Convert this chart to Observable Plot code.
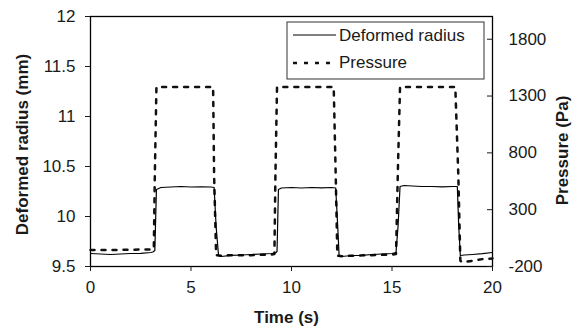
<!DOCTYPE html>
<html><head><meta charset="utf-8">
<script src="https://cdn.jsdelivr.net/npm/d3@7"></script>
<script src="https://cdn.jsdelivr.net/npm/@observablehq/plot@0.6"></script>
<style>
body{margin:0;background:#fff;}
#chart{position:relative;width:580px;height:328px;}
</style></head><body><div id="chart"></div>
<script>
// Deformed radius (mm) over time (s)
const radiusTime = [0, 0.5, 1, 1.5, 2, 2.5, 3, 3.1, 3.2, 3.28, 3.5, 4, 4.5, 5, 5.5, 6, 6.15, 6.25, 6.37, 6.5, 7, 7.5, 8, 8.5, 9, 9.2, 9.28, 9.35, 9.5, 10, 10.5, 11, 11.5, 12, 12.2, 12.3, 12.37, 12.5, 13, 13.5, 14, 14.5, 15, 15.2, 15.3, 15.4, 15.6, 16, 16.5, 17, 17.5, 18, 18.25, 18.32, 18.4, 18.6, 19, 19.5, 20];
const radiusMm = [9.63, 9.625, 9.62, 9.625, 9.63, 9.632, 9.64, 9.645, 9.66, 10.27, 10.29, 10.295, 10.3, 10.295, 10.297, 10.295, 10.29, 9.9, 9.61, 9.6, 9.612, 9.615, 9.62, 9.625, 9.63, 9.635, 9.65, 10.27, 10.285, 10.29, 10.285, 10.29, 10.287, 10.29, 10.285, 9.9, 9.6, 9.6, 9.61, 9.612, 9.62, 9.625, 9.63, 9.64, 9.9, 10.3, 10.31, 10.305, 10.3, 10.3, 10.297, 10.3, 10.3, 9.9, 9.61, 9.615, 9.62, 9.628, 9.64];
// Pressure (Pa) over time (s)
const pressureTime = [0, 1, 2, 3, 3.15, 3.2, 3.28, 4, 5, 6, 6.1, 6.15, 6.25, 6.5, 7, 8, 9, 9.15, 9.2, 9.28, 10, 11, 12, 12.1, 12.2, 12.28, 12.5, 13, 14, 15, 15.2, 15.3, 15.4, 16, 17, 18, 18.15, 18.3, 18.4, 18.5, 19, 19.5, 20];
const pressurePa = [-55, -55, -52, -50, -45, 600, 1380, 1380, 1380, 1380, 1380, 600, -100, -105, -100, -100, -95, -90, 600, 1380, 1380, 1380, 1380, 1380, 600, -105, -110, -105, -100, -95, -90, 700, 1380, 1380, 1380, 1380, 1380, 600, -150, -162, -150, -135, -130];

const xTicks = [0, 5, 10, 15, 20];
const radiusTicks = [9.5, 10, 10.5, 11, 11.5, 12];
const pressureTicks = [-200, 300, 800, 1300, 1800];
const radiusDomain = [9.5, 12];
const pressureDomain = [-200, 2000];
const seriesNames = ["Deformed radius", "Pressure"];

const toR = p => radiusDomain[0] + (p - pressureDomain[0]) / (pressureDomain[1] - pressureDomain[0]) * (radiusDomain[1] - radiusDomain[0]);
const fromR = r => pressureDomain[0] + (r - radiusDomain[0]) / (radiusDomain[1] - radiusDomain[0]) * (pressureDomain[1] - pressureDomain[0]);

const radiusData = radiusTime.map((t, i) => ({t, v: radiusMm[i]}));
const pressureData = pressureTime.map((t, i) => ({t, v: toR(pressurePa[i])}));

const font = "'Liberation Sans', Arial, sans-serif";

const plot = Plot.plot({
  width: 580, height: 328,
  marginLeft: 90, marginRight: 88, marginTop: 16, marginBottom: 62,
  style: {fontFamily: font, fontSize: "17px", color: "#1a1a1a", background: "white", overflow: "visible"},
  x: {domain: [0, 20]},
  y: {domain: radiusDomain},
  marks: [
    Plot.frame({stroke: "#000", strokeWidth: 1.3}),
    Plot.axisX(xTicks, {tickSize: 5, tickPadding: 9, label: null, fontSize: 17, tickFormat: d => String(d)}),
    Plot.axisY(radiusTicks, {anchor: "left", tickSize: 5, tickPadding: 10, label: null, fontSize: 17, tickFormat: d => String(d)}),
    Plot.axisY(pressureTicks.map(toR), {anchor: "right", tickSize: 6, dx: -6, label: null, tickFormat: () => ""}),
    Plot.axisY(pressureTicks.map(toR), {anchor: "right", tickSize: 0, tickPadding: 16, label: null, fontSize: 17, tickFormat: d => String(Math.round(fromR(d)))}),
    Plot.line(pressureData, {x: "t", y: "v", stroke: "#111", strokeWidth: 2.5, strokeDasharray: "4,7"}),
    Plot.line(radiusData, {x: "t", y: "v", stroke: "#000", strokeWidth: 1.2}),
    Plot.text(["Time (s)"], {frameAnchor: "bottom", lineAnchor: "middle", textAnchor: "middle", dy: 51, dx: -5, fontWeight: "bold", fontSize: 17}),
    Plot.text(["Deformed radius (mm)"], {frameAnchor: "left", textAnchor: "middle", lineAnchor: "middle", rotate: -90, dx: -68, dy: 3, fontWeight: "bold", fontSize: 17}),
    Plot.text(["Pressure (Pa)"], {frameAnchor: "right", textAnchor: "middle", lineAnchor: "middle", rotate: -90, dx: 70, dy: 9, fontWeight: "bold", fontSize: 17})
  ]
});
document.getElementById("chart").appendChild(plot);

// legend box inside the plot
const svg = d3.select(plot);
const lg = svg.append("g").attr("font-family", font).attr("font-size", 17).attr("fill", "#1a1a1a").attr("text-anchor", "start");
lg.append("rect").attr("x", 287).attr("y", 22).attr("width", 197).attr("height", 57)
  .attr("fill", "white").attr("stroke", "#333").attr("stroke-width", 1);
lg.append("line").attr("x1", 293).attr("x2", 336).attr("y1", 35).attr("y2", 35).attr("stroke", "#000").attr("stroke-width", 1.2);
lg.append("line").attr("x1", 293).attr("x2", 336).attr("y1", 63).attr("y2", 63).attr("stroke", "#111").attr("stroke-width", 2.5).attr("stroke-dasharray", "4,7");
lg.append("text").attr("x", 339).attr("y", 41).text(seriesNames[0]);
lg.append("text").attr("x", 339).attr("y", 68).text(seriesNames[1]);
</script></body></html>
